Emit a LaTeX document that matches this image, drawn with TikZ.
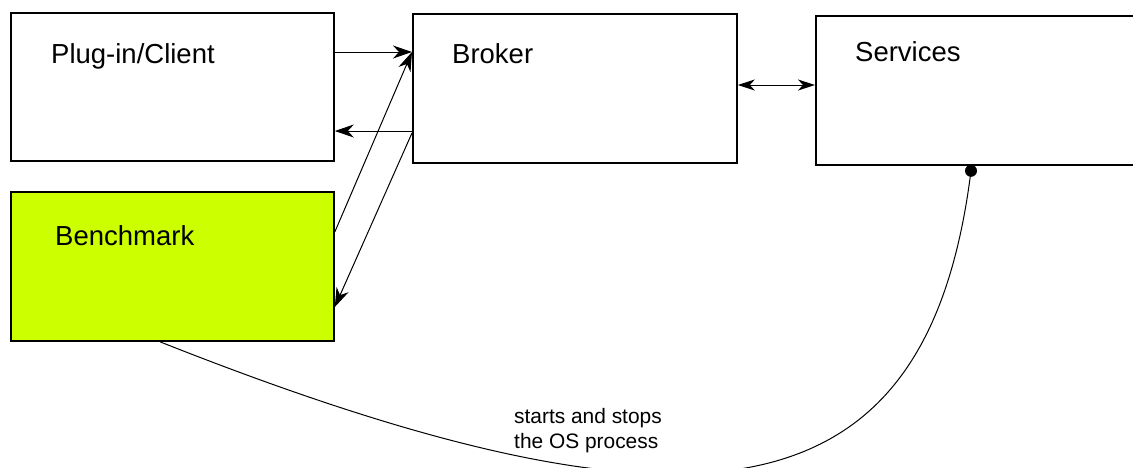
\documentclass[tikz,border=0pt]{standalone}
\usepackage{fontspec}
\setmainfont{Liberation Sans}
\usetikzlibrary{arrows.meta,calc}
\definecolor{benchfill}{RGB}{204,255,0}
\tikzset{
  box/.style={draw=black, line width=1.8pt, rectangle, inner sep=0pt, anchor=north west},
  title/.style={anchor=base west, inner sep=0pt, font=\fontsize{27.5}{32}\selectfont},
  conn/.style={line width=1pt, -{Stealth[length=19pt, width=13pt, inset=6pt]}},
  dconn/.style={line width=1pt, {Stealth[length=17pt, width=11pt, inset=5pt]}-{Stealth[length=17pt, width=11pt, inset=5pt]}},
  curve/.style={line width=1pt},
  lbl/.style={anchor=base west, inner sep=0pt, align=left, font=\fontsize{20.9}{25}\selectfont}
}
\begin{document}
\begin{tikzpicture}[x=1pt, y=-1pt]
\useasboundingbox (0,0) rectangle (1133,467);
\node[box, minimum width=323pt, minimum height=148pt] (plug) at (10,12) {};
\node[box, minimum width=324pt, minimum height=149pt] (broker) at (412,13) {};
\node[box, minimum width=330pt, minimum height=149pt] (serv) at (815,15) {};
\node[box, fill=benchfill, minimum width=323pt, minimum height=149pt] (bench) at (10,191) {};

\node[title] (plugt) at (51,63) {Plug-in/Client};
\node[title] (brokert) at (452,63) {Broker};
\node[title] (servt) at (855,61) {Services};
\node[title] (bencht) at (55,245) {Benchmark};

\coordinate (p1) at ($(plug.north east)+(0,40)$);
\coordinate (b1) at ($(broker.north west)+(0,39)$);
\coordinate (b2) at ($(broker.north west)+(0,118)$);
\coordinate (p2) at ($(plug.north east)+(0,119)$);
\coordinate (bb1) at ($(bench.north east)+(0,41)$);
\coordinate (bb2) at ($(bench.north east)+(0,116)$);
\coordinate (b3) at ($(broker.north west)+(0,120)$);
\draw[conn] (p1) -- (b1);
\draw[conn] (b2) -- (p2);
\draw[conn] (bb1) -- (b1);
\draw[conn] (b3) -- (bb2);

\coordinate (b4) at ($(broker.north east)+(0,72)$);
\coordinate (s4) at ($(serv.north west)+(0,70)$);
\draw[dconn] (b4) -- (s4);

\coordinate (cstart) at ($(bench.south west)+(150,0)$);
\coordinate (cend) at ($(serv.south west)+(156,5)$);
\draw[curve] (cstart) .. controls +(560,222) and +(-42,335) .. (cend);
\fill (cend) circle (6pt);

\node[lbl] (note) at (514,448) {starts and stops\\the OS process};
\end{tikzpicture}
\end{document}
